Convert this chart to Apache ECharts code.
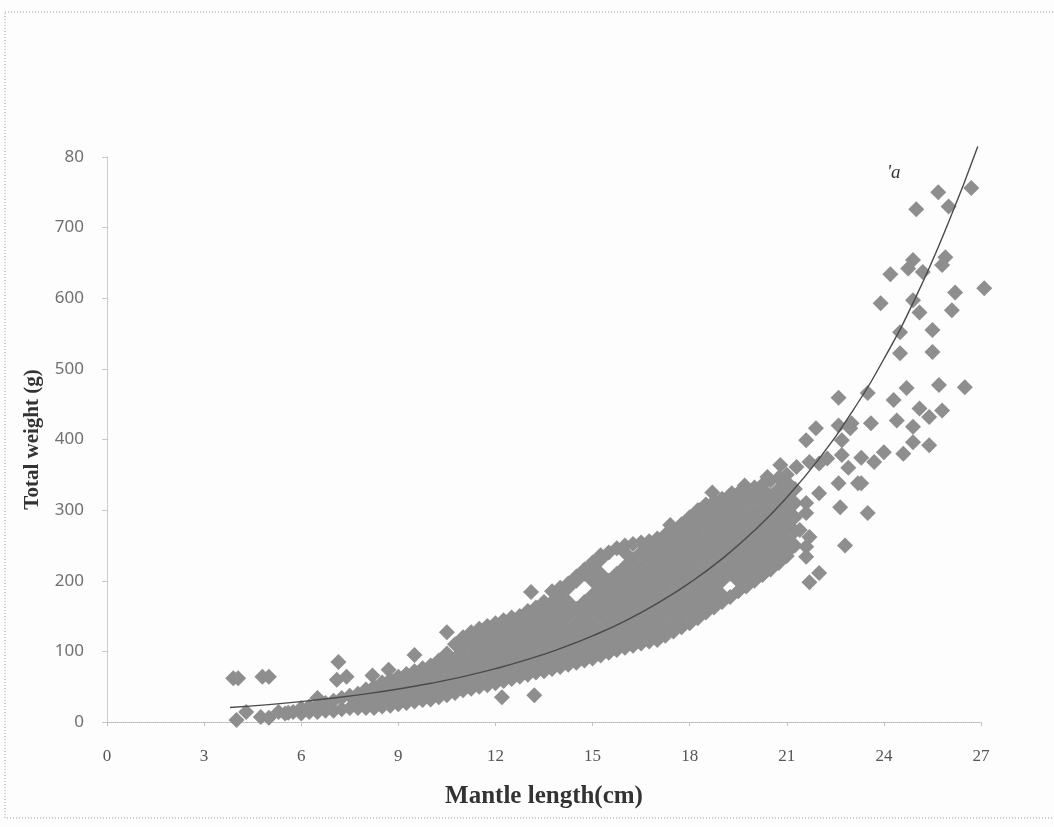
<!DOCTYPE html>
<html>
<head>
<meta charset="utf-8">
<script src="https://cdn.jsdelivr.net/npm/echarts@6/dist/echarts.min.js"></script>
<style>
  html, body { margin: 0; padding: 0; background: #fdfdfd; }
  #chart { width: 1054px; height: 827px; }
</style>
</head>
<body>
<div id="chart"></div>
<script>
// tick labels as they appear in the picture (top one is cut to "80")
const xTickLabels = ['0', '3', '6', '9', '12', '15', '18', '21', '24', '27'];
const yTickLabels = ['0', '100', '200', '300', '400', '500', '600', '700', '80'];

// small and isolated points, mantle length (cm) / total weight (g)
const smallPts = [
  [3.9, 62], [4.05, 62], [4.8, 64], [5.0, 64], [4.0, 3], [4.3, 14], [4.75, 7], [5.0, 6],
  [5.3, 14], [5.6, 13], [6.5, 34], [7.15, 85], [7.1, 60], [7.4, 64], [8.2, 66], [8.7, 74],
  [9.5, 95], [10.5, 127], [12.2, 35], [13.2, 38], [13.1, 184], [17.4, 279], [18.3, 300],
  [18.7, 325], [19.3, 324], [19.7, 335], [20.4, 347], [20.8, 364]
];

// the dense band, one column of weights per mantle length
const bandL = [
  5.5, 5.75, 6.0, 6.25, 6.5, 6.75, 7.0, 7.25, 7.5, 7.75,
  8.0, 8.25, 8.5, 8.75, 9.0, 9.25, 9.5, 9.75, 10.0, 10.25,
  10.5, 10.75, 11.0, 11.25, 11.5, 11.75, 12.0, 12.25, 12.5, 12.75,
  13.0, 13.25, 13.5, 13.75, 14.0, 14.25, 14.5, 14.75, 15.0, 15.25,
  15.5, 15.75, 16.0, 16.25, 16.5, 16.75, 17.0, 17.25, 17.5, 17.75,
  18.0, 18.25, 18.5, 18.75, 19.0, 19.25, 19.5, 19.75, 20.0, 20.25,
  20.5, 20.75, 21.0, 21.25
];
const bandW = [
  [12], [14], [12, 20], [14, 22], [14, 24], [16, 27], [16, 30], [18, 34], [20, 37], [20, 30, 40],
  [20, 40, 46], [20, 30, 50], [22, 40, 56], [23, 30, 50, 60], [25, 40, 60, 64],
  [27, 30, 50, 68], [29, 40, 60, 72], [31, 50, 70, 76], [32, 40, 60, 80], [35, 50, 70, 87],
  [38, 40, 60, 80, 97], [41, 50, 70, 90, 110], [45, 60, 80, 100, 120],
  [47, 50, 70, 90, 110, 127], [50, 60, 80, 100, 120, 132], [52, 70, 90, 110, 130, 136],
  [55, 60, 80, 100, 120, 140], [58, 70, 90, 110, 130, 144], [61, 80, 100, 120, 140, 148],
  [64, 70, 90, 110, 130, 150],
  [67, 80, 100, 120, 140, 157], [70, 90, 110, 130, 150, 162], [72, 80, 100, 120, 140, 160, 170],
  [75, 90, 110, 130, 150, 170, 185], [78, 80, 100, 120, 140, 160, 180, 190],
  [81, 90, 110, 130, 150, 170, 190, 196], [84, 100, 120, 140, 160, 200, 206],
  [87, 90, 110, 130, 150, 170, 210, 216], [90, 100, 120, 140, 160, 180, 200, 220, 226],
  [94, 110, 130, 150, 170, 190, 210, 230, 236],
  [98, 100, 120, 140, 160, 180, 200, 240], [102, 110, 130, 150, 170, 190, 210, 246],
  [105, 120, 140, 160, 180, 200, 220, 240, 250], [108, 110, 130, 150, 170, 190, 210, 230, 252],
  [111, 120, 140, 160, 180, 200, 220, 240, 254], [114, 130, 150, 170, 190, 210, 230, 250, 256],
  [116, 120, 140, 160, 180, 200, 220, 240, 260], [122, 130, 150, 170, 190, 210, 230, 250, 265],
  [128, 140, 160, 180, 200, 220, 240, 260, 272], [134, 150, 170, 190, 210, 230, 250, 270, 280],
  [140, 160, 180, 200, 220, 240, 260, 280, 290],
  [147, 150, 170, 190, 210, 230, 250, 270, 290, 300],
  [155, 160, 180, 200, 220, 240, 260, 280, 300, 308],
  [162, 170, 190, 210, 230, 250, 270, 290, 310, 312],
  [170, 180, 200, 220, 240, 260, 280, 300, 316], [177, 210, 230, 250, 270, 290, 310, 320],
  [185, 200, 220, 240, 260, 280, 300, 320, 324], [192, 210, 230, 250, 270, 290, 310, 328],
  [200, 220, 240, 260, 280, 300, 320, 332], [208, 210, 230, 250, 270, 290, 310, 330, 336],
  [216, 220, 240, 260, 280, 300, 320, 342], [225, 230, 250, 270, 290, 310, 330, 346],
  [235, 240, 260, 280, 300, 320, 340, 350], [250, 270, 290, 310, 330]
];

// large squid, spread out on the right
const largePts = [
  [21.3, 361], [21.7, 368], [21.6, 399], [21.9, 416], [22.6, 420], [22.96, 416], [23.6, 423],
  [22.6, 459], [23.5, 466], [22.7, 399], [22.25, 373], [22.7, 378], [23.3, 374], [23.7, 368],
  [22.9, 360], [22.0, 366], [23.3, 338], [22.6, 338], [22.0, 324], [22.65, 304], [23.5, 296],
  [21.6, 310], [21.6, 296], [21.4, 272], [21.7, 262], [22.8, 250], [21.6, 248], [21.6, 234],
  [22.0, 211], [21.7, 198], [23.0, 423], [24.4, 427], [24.9, 418], [24.9, 396], [25.4, 392],
  [24.0, 382], [24.6, 380], [23.2, 338], [24.3, 456], [25.1, 444], [25.4, 432], [25.8, 441],
  [24.7, 473], [25.7, 477], [26.5, 474], [24.5, 552], [25.5, 555], [24.5, 522], [25.5, 524],
  [23.9, 593], [24.9, 597], [25.1, 580], [26.1, 583], [24.2, 634], [26.2, 608], [27.1, 614],
  [24.9, 654], [24.75, 642], [25.2, 637], [25.9, 658], [25.8, 647], [25.0, 726], [26.0, 730],
  [25.68, 750], [26.7, 756]
];

// fitted curve
const curveL = [3.8, 5, 6, 7, 8, 9, 10, 11, 12, 13, 14, 15, 16, 17, 18, 19, 20, 21, 22, 23, 24, 25, 26, 26.9];
const curveW = [20.5, 24.6, 28.9, 33.9, 39.8, 46.7, 54.8, 64.3, 75.5, 88.6, 104, 122, 143, 168, 197, 231, 271, 318, 373, 438, 514, 603, 708, 815];

const scatterData = smallPts.slice();
bandL.forEach((l, i) => bandW[i].forEach(w => scatterData.push([l, w])));
largePts.forEach(p => scatterData.push(p));
const curveData = curveL.map((l, i) => [l, curveW[i]]);

const chart = echarts.init(document.getElementById('chart'));
chart.setOption({
  backgroundColor: '#fdfdfd',
  animation: false,
  grid: {
    left: 107, right: 73, top: 157, bottom: 105,
    containLabel: false, outerBoundsMode: 'none'
  },
  graphic: [
    {
      type: 'rect',
      shape: { x: 5, y: 12, width: 1100, height: 806 },
      style: { fill: 'none', stroke: '#9a9a9a', lineWidth: 1, lineDash: [1, 2] },
      silent: true
    },
    {
      type: 'text',
      left: 887, top: 163,
      style: { text: "'a", font: 'italic 19px "Liberation Serif"', fill: '#333' }
    }
  ],
  xAxis: {
    type: 'value',
    min: 0, max: 27, interval: 3,
    name: 'Mantle length(cm)',
    nameLocation: 'middle',
    nameGap: 62,
    nameTextStyle: {
      fontFamily: 'Liberation Serif', fontWeight: 'bold', fontSize: 25, color: '#333'
    },
    axisLine: { show: true, lineStyle: { color: '#b5b5b5', type: 'dotted', width: 1 } },
    axisTick: { show: true, length: 4, lineStyle: { color: '#c0c0c0' } },
    axisLabel: {
      margin: 26,
      fontFamily: 'Liberation Serif', fontSize: 17, color: '#555',
      formatter: (v) => xTickLabels[Math.round(v / 3)]
    },
    splitLine: { show: false }
  },
  yAxis: {
    type: 'value',
    min: 0, max: 800, interval: 100,
    name: 'Total weight (g)',
    nameLocation: 'middle',
    nameRotate: 90,
    nameGap: 64,
    nameTextStyle: {
      fontFamily: 'Liberation Serif', fontWeight: 'bold', fontSize: 21, color: '#333'
    },
    axisLine: { show: true, lineStyle: { color: '#c0c0c0', type: 'dotted', width: 1 } },
    axisTick: { show: true, length: 5, lineStyle: { color: '#c8c8c8' } },
    axisLabel: {
      margin: 23,
      fontFamily: 'Noto Sans', fontSize: 17, color: '#707070',
      formatter: (v) => yTickLabels[Math.round(v / 100)]
    },
    splitLine: { show: false }
  },
  series: [
    {
      type: 'scatter',
      data: scatterData,
      symbol: 'diamond',
      symbolSize: 16,
      clip: false,
      itemStyle: { color: '#8e8e8e', opacity: 1 },
      z: 2
    },
    {
      type: 'line',
      data: curveData,
      smooth: true,
      showSymbol: false,
      clip: false,
      lineStyle: { color: '#4a4a4a', width: 1.4 },
      z: 3
    }
  ]
});
</script>
</body>
</html>
